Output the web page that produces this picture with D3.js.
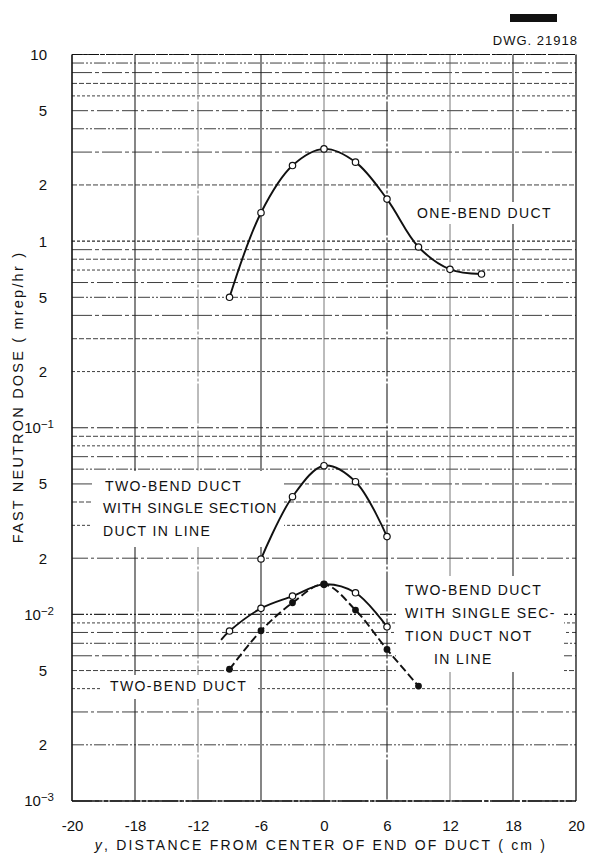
<!DOCTYPE html>
<html>
<head>
<meta charset="utf-8">
<script src="https://cdn.jsdelivr.net/npm/d3@7"></script>
<style>
  html, body { margin: 0; padding: 0; background: #fff; }
  svg { display: block; }
  text { font-family: "Liberation Sans", "DejaVu Sans", sans-serif; fill: #111; }
</style>
</head>
<body>
<svg id="chart" width="593" height="854"></svg>
<script>
// ---------------- DATA ----------------
const xTickValues = [-24, -18, -12, -6, 0, 6, 12, 18, 24];
const xTickLabels = ["-20", "-18", "-12", "-6", "0", "6", "12", "18", "20"];

const yTickValues = [10, 5, 2, 1, 0.5, 0.2, 0.1, 0.05, 0.02, 0.01, 0.005, 0.002, 0.001];
const yTickLabels = ["10", "5", "2", "1", "5", "2", "10^-1", "5", "2", "10^-2", "5", "2", "10^-3"];

// One-bend duct (open circles, solid line)
const oneBendX = [-9, -6, -3, 0, 3, 6, 9, 12, 15];
const oneBendY = [0.50, 1.42, 2.54, 3.12, 2.65, 1.68, 0.93, 0.706, 0.666];

// Two-bend duct with single section duct in line (open circles, solid)
const inLineX = [-6, -3, 0, 3, 6];
const inLineY = [0.0198, 0.0427, 0.0626, 0.0514, 0.0261];

// Two-bend duct with single section duct not in line (open circles, solid)
// first point is the unmarked start of the drawn curve
const notInLineX = [-9.8, -9, -6, -3, 0, 3, 6];
const notInLineY = [0.0073, 0.00814, 0.01077, 0.01253, 0.01448, 0.01305, 0.00858];
const notInLineMarked = [false, true, true, true, true, true, true];

// Two-bend duct (filled circles, dashed line)
const twoBendX = [-9, -6, -3, 0, 3, 6, 9];
const twoBendY = [0.00508, 0.00817, 0.01154, 0.01448, 0.01054, 0.00649, 0.00413];

// ---------------- LAYOUT ----------------
const svg = d3.select("#chart");
const L = 72, R = 576, T = 54.5, B = 801;

const x = d3.scaleLinear().domain([-24, 24]).range([L, R]);
const y = d3.scaleLog().domain([0.001, 10]).range([B, T]);

// ---------------- GRID ----------------
const grid = svg.append("g");
const minorVals = [];
for (let e = -3; e <= 0; e++) {
  for (let m = 1; m <= 9; m++) minorVals.push({ v: m * Math.pow(10, e), m: m, e: e });
}
minorVals.push({ v: 10, m: 1, e: 1 });
const dashes = ["16,3,3,3", "5,2", "12,2,2,2,2,2", "3,2", "20,3,4,3"];
grid.selectAll("line.h").data(minorVals).enter().append("line")
  .attr("class", "h")
  .attr("x1", L).attr("x2", R)
  .attr("y1", d => y(d.v)).attr("y2", d => y(d.v))
  .attr("stroke", "#2a2a2a")
  .attr("stroke-width", d => (d.m === 1 ? 1.1 : 0.9))
  .attr("stroke-dasharray", (d, i) => dashes[(i * 3 + d.e + 7) % dashes.length]);

grid.selectAll("line.v").data(xTickValues.slice(1, -1)).enter().append("line")
  .attr("class", "v")
  .attr("x1", d => x(d)).attr("x2", d => x(d))
  .attr("y1", T).attr("y2", B)
  .attr("stroke", (d, i) => (i % 2 ? "#555" : "#222"))
  .attr("stroke-width", (d, i) => (i % 2 ? 0.8 : 1.1))
  .attr("stroke-dasharray", (d, i) => (i % 3 === 1 ? "40,2,3,2" : null));

// frame
svg.append("line").attr("x1", L).attr("x2", L).attr("y1", T).attr("y2", B)
  .attr("stroke", "#111").attr("stroke-width", 1.6);
svg.append("line").attr("x1", R).attr("x2", R).attr("y1", T).attr("y2", B)
  .attr("stroke", "#111").attr("stroke-width", 1.3);
svg.append("line").attr("x1", L).attr("x2", R).attr("y1", T).attr("y2", T)
  .attr("stroke", "#111").attr("stroke-width", 1.2).attr("stroke-dasharray", "10,2,3,2");
svg.append("line").attr("x1", L).attr("x2", R).attr("y1", B).attr("y2", B)
  .attr("stroke", "#111").attr("stroke-width", 1.3).attr("stroke-dasharray", "30,2,4,2");

// ---------------- ANNOTATION BACKGROUNDS ----------------
const bg = svg.append("g").attr("fill", "#fff");
bg.append("rect").attr("x", 92).attr("y", 471).attr("width", 192).attr("height", 76);
bg.append("rect").attr("x", 100).attr("y", 675).attr("width", 158).attr("height", 24);
bg.append("rect").attr("x", 396).attr("y", 576).attr("width", 168).attr("height", 96);
bg.append("rect").attr("x", 410).attr("y", 202).attr("width", 148).attr("height", 22);

// ---------------- AXES LABELS ----------------
const xAxis = d3.axisBottom(x).tickValues(xTickValues)
  .tickFormat((d, i) => xTickLabels[i]).tickSize(0).tickPadding(19);
const xg = svg.append("g").attr("transform", `translate(0,${B})`).call(xAxis);
xg.select(".domain").remove();
xg.selectAll("text").style("font-size", "15px").style("font-family", "Liberation Sans, sans-serif").attr("fill", "#111");

const yg = svg.append("g");
yTickValues.forEach((v, i) => {
  const lab = yTickLabels[i];
  const t = yg.append("text")
    .attr("y", y(v))
    .attr("dy", "0.36em")
    .attr("text-anchor", "end")
    .style("font-size", "15px");
  if (lab.includes("^")) {
    const [base, exp] = lab.split("^");
    t.attr("x", 54);
    t.append("tspan").text(base);
    t.append("tspan").attr("dy", "-0.45em").style("font-size", "11.5px").text(exp.replace("-", "\u2212"));
  } else {
    t.attr("x", 47).text(lab);
  }
});

// axis titles
const xt = svg.append("text").attr("x", 321).attr("y", 850)
  .attr("text-anchor", "middle").style("font-size", "14px").style("letter-spacing", "2.2px");
xt.append("tspan").style("font-style", "italic").text("y");
xt.append("tspan").text(", DISTANCE  FROM  CENTER  OF  END  OF  DUCT  ( cm )");

svg.append("text")
  .attr("transform", "translate(23,397) rotate(-90)")
  .attr("text-anchor", "middle").style("font-size", "14.5px").style("letter-spacing", "2.2px")
  .text("FAST  NEUTRON  DOSE  ( mrep/hr )");

// header
svg.append("rect").attr("x", 510).attr("y", 14).attr("width", 47).attr("height", 8).attr("fill", "#111");
svg.append("text").attr("x", 578).attr("y", 45).attr("text-anchor", "end")
  .style("font-size", "13px").style("letter-spacing", "1px").text("DWG. 21918");

// ---------------- CURVES ----------------
const line = d3.line().x(d => x(d.x)).y(d => y(d.y)).curve(d3.curveCatmullRom.alpha(0.5));
const zip = (xs, ys, ms) => xs.map((v, i) => ({ x: v, y: ys[i], m: ms ? ms[i] : true }));

const oneBend = zip(oneBendX, oneBendY);
const inLine = zip(inLineX, inLineY);
const notInLine = zip(notInLineX, notInLineY, notInLineMarked);
const twoBend = zip(twoBendX, twoBendY);

const curves = svg.append("g").attr("fill", "none").attr("stroke", "#111").attr("stroke-width", 1.9);
curves.append("path").attr("d", line(oneBend));
curves.append("path").attr("d", line(inLine));
curves.append("path").attr("d", line(notInLine));
curves.append("path").attr("d", line(twoBend)).attr("stroke-dasharray", "8,3.5");

// markers
const mk = svg.append("g");
function openMarks(data) {
  mk.selectAll(null).data(data.filter(d => d.m)).enter().append("circle")
    .attr("cx", d => x(d.x)).attr("cy", d => y(d.y)).attr("r", 3.2)
    .attr("fill", "#fff").attr("stroke", "#111").attr("stroke-width", 1.2);
}
openMarks(oneBend);
openMarks(inLine);
openMarks(notInLine);
mk.selectAll(null).data(twoBend).enter().append("circle")
  .attr("cx", d => x(d.x)).attr("cy", d => y(d.y)).attr("r", 3.4)
  .attr("fill", "#111");

// ---------------- ANNOTATIONS ----------------
const ann = svg.append("g").style("font-size", "14px").style("letter-spacing", "1.4px");
ann.append("text").attr("x", 417).attr("y", 218).text("ONE-BEND DUCT");
[["TWO-BEND DUCT", 105, 491], ["WITH SINGLE SECTION", 103, 513], ["DUCT IN LINE", 103, 536]]
  .forEach(([s, xx, yy]) => ann.append("text").attr("x", xx).attr("y", yy)
    .style("letter-spacing", s.length > 15 ? "0.9px" : null).text(s));
[["TWO-BEND DUCT", 405, 595], ["WITH SINGLE SEC-", 405, 618], ["TION DUCT NOT", 405, 641], ["IN LINE", 434, 664]]
  .forEach(([s, xx, yy]) => ann.append("text").attr("x", xx).attr("y", yy).text(s));
ann.append("text").attr("x", 110).attr("y", 691).text("TWO-BEND DUCT");
</script>
</body>
</html>
